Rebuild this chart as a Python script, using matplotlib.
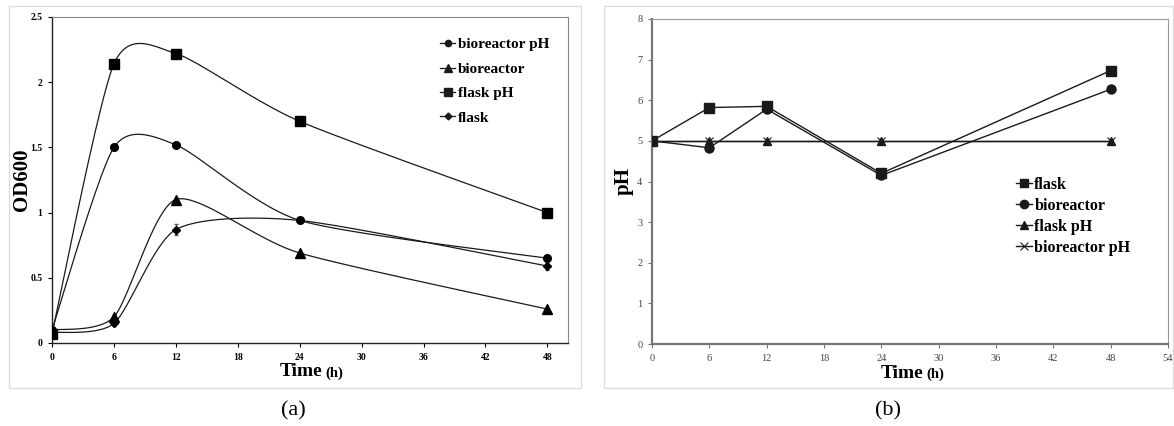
import numpy as np
import matplotlib.pyplot as plt
from matplotlib.lines import Line2D
from matplotlib.patches import Rectangle

plt.rcParams['font.family'] = ['Liberation Serif', 'DejaVu Serif']

# panel (a): OD600 over time
time_a = [0, 6, 12, 24, 48]
od_bioreactor_ph = [0.10, 1.50, 1.52, 0.94, 0.65]
od_bioreactor = [0.10, 0.20, 1.10, 0.69, 0.26]
od_flask_ph = [0.07, 2.14, 2.22, 1.70, 1.00]
od_flask = [0.08, 0.15, 0.87, 0.94, 0.59]
od_flask_err = [0.0, 0.02, 0.04, 0.01, 0.03]

# panel (b): pH over time
time_b = [0, 6, 12, 24, 48]
ph_flask = [5.0, 5.82, 5.85, 4.20, 6.73]
ph_bioreactor = [5.0, 4.83, 5.78, 4.15, 6.27]
ph_flask_ph = [5.0, 5.0, 5.0, 5.0, 5.0]
ph_bioreactor_ph = [5.0, 5.0, 5.0, 5.0, 5.0]

W, H = 1174, 426
LC = '#1a1a1a'


def smooth(x, y, sx, sy, k=0.12, n=40):
    # excel-like bezier smoothing done in screen-scaled space
    p = np.column_stack([np.array(x) * sx, np.array(y) * sy])
    p = np.vstack([p[0], p, p[-1]])
    out = []
    for i in range(1, len(p) - 2):
        p0, p1, p2, p3 = p[i - 1], p[i], p[i + 1], p[i + 2]
        c1 = p1 + k * (p2 - p0)
        c2 = p2 - k * (p3 - p1)
        t = np.linspace(0, 1, n)[:, None]
        seg = (1 - t)**3 * p1 + 3 * (1 - t)**2 * t * c1 + 3 * (1 - t) * t**2 * c2 + t**3 * p2
        out.append(seg)
    out = np.vstack(out)
    return out[:, 0] / sx, out[:, 1] / sy


def px(x, y):
    return x / W, 1 - y / H


fig = plt.figure(figsize=(W / 100, H / 100), dpi=100)

# light frames around each panel
for (x0, y0, x1, y1) in [(9, 6, 581, 388), (604, 6, 1173, 388)]:
    fig.patches.append(Rectangle(px(x0, y1), (x1 - x0) / W, (y1 - y0) / H,
                                 transform=fig.transFigure, fill=False,
                                 edgecolor='#dddddd', linewidth=1))

# ---------- (a)
ax = fig.add_axes([52 / W, 83 / H, 516 / W, 326 / H])
ax.set_xlim(0, 50)
ax.set_ylim(0, 2.5)
sx, sy = 516 / 50, 326 / 2.5
series_a = [
    ('bioreactor pH', od_bioreactor_ph, 'o', 5.5),
    ('bioreactor', od_bioreactor, '^', 6.5),
    ('flask pH', od_flask_ph, 's', 6.5),
    ('flask', od_flask, 'D', 4.5),
]
handles = []
for name, vals, m, ms in series_a:
    xs, ys = smooth(time_a, vals, sx, sy)
    ax.plot(xs, ys, color=LC, linewidth=0.9, zorder=2)
    ax.plot(time_a, vals, linestyle='none', marker=m, markersize=ms,
            color='black', zorder=3)
    handles.append(Line2D([], [], color=LC, linewidth=0.9, marker=m,
                          markersize=ms - 1, label=name))
ax.errorbar(time_a, od_flask, yerr=od_flask_err, fmt='none', ecolor='#555555',
            elinewidth=0.8, capsize=1.5, zorder=2)
ax.set_xticks(range(0, 49, 6))
ax.set_yticks([0, 0.5, 1, 1.5, 2, 2.5])
ax.set_yticklabels(['0', '0.5', '1', '1.5', '2', '2.5'])
ax.tick_params(labelsize=7, length=3, width=0.8, direction='out', pad=4)
for lab in ax.get_xticklabels() + ax.get_yticklabels():
    lab.set_fontweight('bold')
for s in ['top', 'right']:
    ax.spines[s].set_color('#888888')
    ax.spines[s].set_linewidth(0.8)
for s in ['left', 'bottom']:
    ax.spines[s].set_color('#222222')
    ax.spines[s].set_linewidth(1.0)
ax.legend(handles=handles, loc='upper left', bbox_to_anchor=(0.74, 0.955),
          frameon=False, prop={'weight': 'bold', 'size': 11},
          handlelength=1.0, handletextpad=0.15, labelspacing=0.7,
          borderaxespad=0)
fig.text(*px(22, 180), 'OD600', rotation=90, ha='center', va='center',
         fontsize=15, fontweight='bold')
fig.text(*px(322, 372), 'Time', ha='right', va='center', fontsize=14, fontweight='bold')
fig.text(*px(325, 373), '(h)', ha='left', va='center', fontsize=10.5, fontweight='bold')
fig.text(*px(293, 411), '(a)', ha='center', va='center', fontsize=16)

# ---------- (b)
bx = fig.add_axes([652 / W, 82 / H, 516 / W, 325 / H])
bx.set_xlim(0, 54)
bx.set_ylim(0, 8)
series_b = [
    ('flask', ph_flask, 's', 6.5),
    ('bioreactor', ph_bioreactor, 'o', 6.5),
    ('flask pH', ph_flask_ph, '^', 6),
    ('bioreactor pH', ph_bioreactor_ph, 'x', 6),
]
handles_b = []
for name, vals, m, ms in series_b:
    mew = 0.8 if m == 'x' else 1.0
    bx.plot(time_b, vals, color=LC, linewidth=1.0, marker=m, markersize=ms,
            markeredgewidth=mew, zorder=3 if m != 'x' else 2)
    handles_b.append(Line2D([], [], color=LC, linewidth=1.0, marker=m,
                            markersize=ms - 0.5, markeredgewidth=mew, label=name))
bx.set_xticks(range(0, 55, 6))
bx.set_yticks(range(0, 9))
bx.tick_params(labelsize=7.5, length=3, width=0.8, direction='out', pad=4,
               labelcolor='#444444', color='#777777')
for s in ['top', 'right']:
    bx.spines[s].set_color('#999999')
    bx.spines[s].set_linewidth(0.8)
for s in ['left', 'bottom']:
    bx.spines[s].set_color('#777777')
    bx.spines[s].set_linewidth(1.6)
bx.legend(handles=handles_b, loc='upper left', bbox_to_anchor=(0.693, 0.535),
          frameon=False, prop={'weight': 'bold', 'size': 11.5},
          handlelength=1.0, handletextpad=0.15, labelspacing=0.32,
          borderaxespad=0)
fig.text(*px(624, 181), 'pH', rotation=90, ha='center', va='center',
         fontsize=15, fontweight='bold')
fig.text(*px(923, 373), 'Time', ha='right', va='center', fontsize=14, fontweight='bold')
fig.text(*px(926, 374), '(h)', ha='left', va='center', fontsize=10.5, fontweight='bold')
fig.text(*px(888, 411), '(b)', ha='center', va='center', fontsize=16)

fig.savefig('out.png', dpi=100)
